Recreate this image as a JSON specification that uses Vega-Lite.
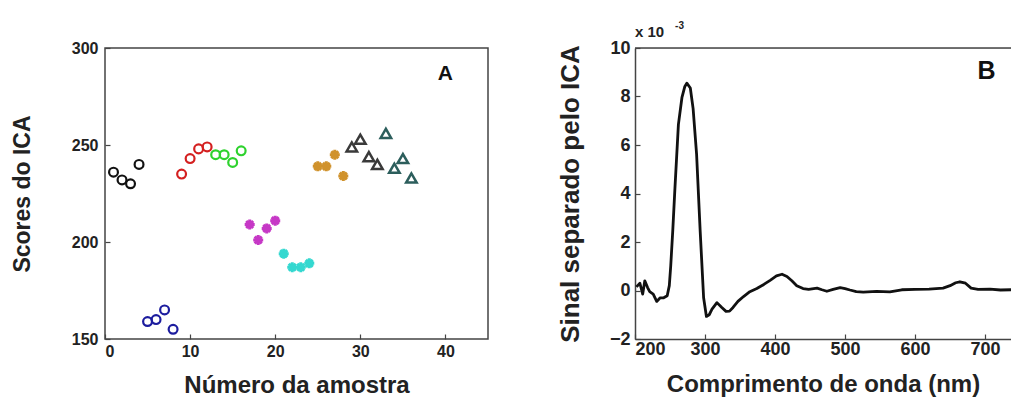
{
  "$schema": "https://vega.github.io/schema/vega-lite/v6.json",
  "padding": {"left": 10, "top": 20, "right": 0, "bottom": 4},
  "background": "white",
  "bounds": "flush",
  "spacing": 147,
  "config": {
    "font": "Liberation Sans",
    "axis": {
      "grid": false,
      "labelFont": "Liberation Sans",
      "labelFontWeight": "bold",
      "labelColor": "#222",
      "titleFont": "Liberation Sans",
      "titleFontWeight": "bold",
      "titleColor": "#222",
      "tickColor": "#444",
      "domainColor": "#444",
      "tickSize": -5,
      "tickWidth": 1.2
    }
  },
  "datasets": {
    "scores": [
      {"amostra": 1, "score": 236, "group": "g1", "marker": "circle"},
      {"amostra": 2, "score": 232, "group": "g1", "marker": "circle"},
      {"amostra": 3, "score": 230, "group": "g1", "marker": "circle"},
      {"amostra": 4, "score": 240, "group": "g1", "marker": "circle"},
      {"amostra": 5, "score": 159, "group": "g2", "marker": "circle"},
      {"amostra": 6, "score": 160, "group": "g2", "marker": "circle"},
      {"amostra": 7, "score": 165, "group": "g2", "marker": "circle"},
      {"amostra": 8, "score": 155, "group": "g2", "marker": "circle"},
      {"amostra": 9, "score": 235, "group": "g3", "marker": "circle"},
      {"amostra": 10, "score": 243, "group": "g3", "marker": "circle"},
      {"amostra": 11, "score": 248, "group": "g3", "marker": "circle"},
      {"amostra": 12, "score": 249, "group": "g3", "marker": "circle"},
      {"amostra": 13, "score": 245, "group": "g4", "marker": "circle"},
      {"amostra": 14, "score": 245, "group": "g4", "marker": "circle"},
      {"amostra": 15, "score": 241, "group": "g4", "marker": "circle"},
      {"amostra": 16, "score": 247, "group": "g4", "marker": "circle"},
      {"amostra": 17, "score": 209, "group": "g5", "marker": "star"},
      {"amostra": 18, "score": 201, "group": "g5", "marker": "star"},
      {"amostra": 19, "score": 207, "group": "g5", "marker": "star"},
      {"amostra": 20, "score": 211, "group": "g5", "marker": "star"},
      {"amostra": 21, "score": 194, "group": "g6", "marker": "star"},
      {"amostra": 22, "score": 187, "group": "g6", "marker": "star"},
      {"amostra": 23, "score": 187, "group": "g6", "marker": "star"},
      {"amostra": 24, "score": 189, "group": "g6", "marker": "star"},
      {"amostra": 25, "score": 239, "group": "g7", "marker": "star"},
      {"amostra": 26, "score": 239, "group": "g7", "marker": "star"},
      {"amostra": 27, "score": 245, "group": "g7", "marker": "star"},
      {"amostra": 28, "score": 234, "group": "g7", "marker": "star"},
      {"amostra": 29, "score": 249, "group": "g8", "marker": "triangle"},
      {"amostra": 30, "score": 253, "group": "g8", "marker": "triangle"},
      {"amostra": 31, "score": 244, "group": "g8", "marker": "triangle"},
      {"amostra": 32, "score": 240, "group": "g8", "marker": "triangle"},
      {"amostra": 33, "score": 256, "group": "g9", "marker": "triangle"},
      {"amostra": 34, "score": 238, "group": "g9", "marker": "triangle"},
      {"amostra": 35, "score": 243, "group": "g9", "marker": "triangle"},
      {"amostra": 36, "score": 233, "group": "g9", "marker": "triangle"}
    ],
    "labelA": [{"amostra": 40, "score": 286.5, "text": "A"}],
    "labelB": [{"nm": 702, "sinal": 9.07, "text": "B"}],
    "expBase": [{"nm": 200, "sinal": 10, "text": "x 10"}],
    "expPow": [{"nm": 253, "sinal": 10, "text": "-3"}],
    "frameTop": [{"nm": 200, "nm_end": 737, "sinal": 10}],
    "signal": [
      {"nm": 202, "sinal": 0.15}, {"nm": 207, "sinal": 0.3}, {"nm": 211, "sinal": -0.15},
      {"nm": 214, "sinal": 0.4}, {"nm": 218, "sinal": 0.12}, {"nm": 221, "sinal": -0.05},
      {"nm": 226, "sinal": -0.15}, {"nm": 231, "sinal": -0.45}, {"nm": 236, "sinal": -0.3},
      {"nm": 241, "sinal": -0.3}, {"nm": 246, "sinal": -0.22}, {"nm": 249, "sinal": 0.2},
      {"nm": 251, "sinal": 1.0}, {"nm": 254, "sinal": 2.5}, {"nm": 257, "sinal": 4.2},
      {"nm": 262, "sinal": 6.85}, {"nm": 267, "sinal": 7.95}, {"nm": 271, "sinal": 8.4},
      {"nm": 274, "sinal": 8.55}, {"nm": 279, "sinal": 8.35}, {"nm": 283, "sinal": 7.5},
      {"nm": 288, "sinal": 5.6}, {"nm": 293, "sinal": 2.5}, {"nm": 298, "sinal": -0.3},
      {"nm": 302, "sinal": -1.07}, {"nm": 306, "sinal": -1.0}, {"nm": 310, "sinal": -0.77},
      {"nm": 317, "sinal": -0.5}, {"nm": 324, "sinal": -0.7}, {"nm": 330, "sinal": -0.86},
      {"nm": 335, "sinal": -0.85}, {"nm": 340, "sinal": -0.7}, {"nm": 347, "sinal": -0.45},
      {"nm": 355, "sinal": -0.25}, {"nm": 364, "sinal": -0.05}, {"nm": 374, "sinal": 0.08},
      {"nm": 384, "sinal": 0.25}, {"nm": 393, "sinal": 0.42}, {"nm": 402, "sinal": 0.6},
      {"nm": 410, "sinal": 0.67}, {"nm": 417, "sinal": 0.58}, {"nm": 424, "sinal": 0.4},
      {"nm": 431, "sinal": 0.2}, {"nm": 440, "sinal": 0.08}, {"nm": 448, "sinal": 0.05},
      {"nm": 460, "sinal": 0.1}, {"nm": 467, "sinal": 0.03}, {"nm": 474, "sinal": -0.03},
      {"nm": 483, "sinal": 0.05}, {"nm": 493, "sinal": 0.12}, {"nm": 500, "sinal": 0.08},
      {"nm": 507, "sinal": 0.02}, {"nm": 516, "sinal": -0.05}, {"nm": 526, "sinal": -0.07},
      {"nm": 545, "sinal": -0.04}, {"nm": 564, "sinal": -0.06}, {"nm": 581, "sinal": 0.03},
      {"nm": 600, "sinal": 0.05}, {"nm": 620, "sinal": 0.06}, {"nm": 640, "sinal": 0.1},
      {"nm": 650, "sinal": 0.2}, {"nm": 658, "sinal": 0.32}, {"nm": 664, "sinal": 0.36},
      {"nm": 672, "sinal": 0.3}, {"nm": 680, "sinal": 0.1}, {"nm": 690, "sinal": 0.05},
      {"nm": 707, "sinal": 0.06}, {"nm": 722, "sinal": 0.02}, {"nm": 737, "sinal": 0.03}
    ]
  },
  "hconcat": [
    {
      "width": 383,
      "height": 291,
      "view": {"stroke": "#444", "strokeWidth": 1.5},
      "encoding": {
        "x": {
          "field": "amostra", "type": "quantitative",
          "scale": {"domain": [0, 45], "nice": false, "zero": false},
          "axis": {"values": [0, 10, 20, 30, 40], "domain": false, "labelFontSize": 16, "labelPadding": 9,
                   "title": "Número da amostra", "titleFontSize": 24, "titlePadding": 14}
        },
        "y": {
          "field": "score", "type": "quantitative",
          "scale": {"domain": [150, 300], "nice": false, "zero": false},
          "axis": {"values": [150, 200, 250, 300], "domain": false, "labelFontSize": 16, "labelPadding": 12,
                   "title": "Scores do ICA", "titleFontSize": 23, "titlePadding": 37}
        }
      },
      "layer": [
        {
          "data": {"name": "scores"},
          "transform": [{"filter": "datum.marker === 'circle'"}],
          "mark": {"type": "point", "shape": "circle", "filled": false, "strokeWidth": 2.2, "size": 78, "opacity": 1},
          "encoding": {
            "color": {"field": "group", "type": "nominal", "legend": null,
              "scale": {"domain": ["g1","g2","g3","g4","g5","g6","g7","g8","g9"],
                        "range": ["#111111","#1c1c9e","#d42020","#2ed22e","#c638c6","#34d8d0","#d0922c","#3a3a3a","#2c5e5c"]}}
          }
        },
        {
          "data": {"name": "scores"},
          "transform": [{"filter": "datum.marker === 'star'"}],
          "mark": {"type": "point", "shape": "M-1,0L1,0M0,-1L0,1M-0.7,-0.7L0.7,0.7M-0.7,0.7L0.7,-0.7", "filled": false, "strokeWidth": 3, "size": 100, "opacity": 1},
          "encoding": {
            "color": {"field": "group", "type": "nominal", "legend": null}
          }
        },
        {
          "data": {"name": "scores"},
          "transform": [{"filter": "datum.marker === 'triangle'"}],
          "mark": {"type": "point", "shape": "triangle-up", "filled": false, "strokeWidth": 2.5, "size": 110, "opacity": 1},
          "encoding": {
            "color": {"field": "group", "type": "nominal", "legend": null}
          }
        },
        {
          "data": {"name": "labelA"},
          "mark": {"type": "text", "fontSize": 21, "fontWeight": "bold", "color": "#111", "font": "Liberation Sans"},
          "encoding": {"text": {"field": "text"}}
        }
      ]
    },
    {
      "width": 376,
      "height": 291,
      "encoding": {
        "x": {
          "field": "nm", "type": "quantitative",
          "scale": {"domain": [200, 737], "nice": false, "zero": false},
          "axis": {"values": [200, 300, 400, 500, 600, 700], "domain": true, "domainWidth": 1.5,
                   "labelFontSize": 18, "labelPadding": 6,
                   "title": "Comprimento de onda (nm)", "titleFontSize": 24, "titlePadding": 14}
        },
        "y": {
          "field": "sinal", "type": "quantitative",
          "scale": {"domain": [-2, 10], "nice": false, "zero": false},
          "axis": {"values": [-2, 0, 2, 4, 6, 8, 10], "domain": true, "domainWidth": 1.5,
                   "labelFontSize": 18, "labelPadding": 10,
                   "title": "Sinal separado pelo ICA", "titleFontSize": 26, "titlePadding": 26}
        }
      },
      "layer": [
        {
          "data": {"name": "signal"},
          "mark": {"type": "line", "color": "#111", "strokeWidth": 2.8, "strokeJoin": "round"}
        },
        {
          "data": {"name": "frameTop"},
          "mark": {"type": "rule", "color": "#444", "strokeWidth": 1.5, "clip": false},
          "encoding": {
            "x2": {"field": "nm_end"}
          }
        },
        {
          "data": {"name": "labelB"},
          "mark": {"type": "text", "fontSize": 25, "fontWeight": "bold", "color": "#111", "font": "Liberation Sans"},
          "encoding": {"text": {"field": "text"}}
        },
        {
          "data": {"name": "expBase"},
          "mark": {"type": "text", "align": "left", "baseline": "bottom", "dy": -8, "fontSize": 15, "fontWeight": "bold", "color": "#222", "clip": false},
          "encoding": {"text": {"field": "text"}}
        },
        {
          "data": {"name": "expPow"},
          "mark": {"type": "text", "align": "left", "baseline": "bottom", "dy": -17, "dx": 3, "fontSize": 10, "fontWeight": "bold", "color": "#222", "clip": false},
          "encoding": {"text": {"field": "text"}}
        }
      ]
    }
  ]
}
